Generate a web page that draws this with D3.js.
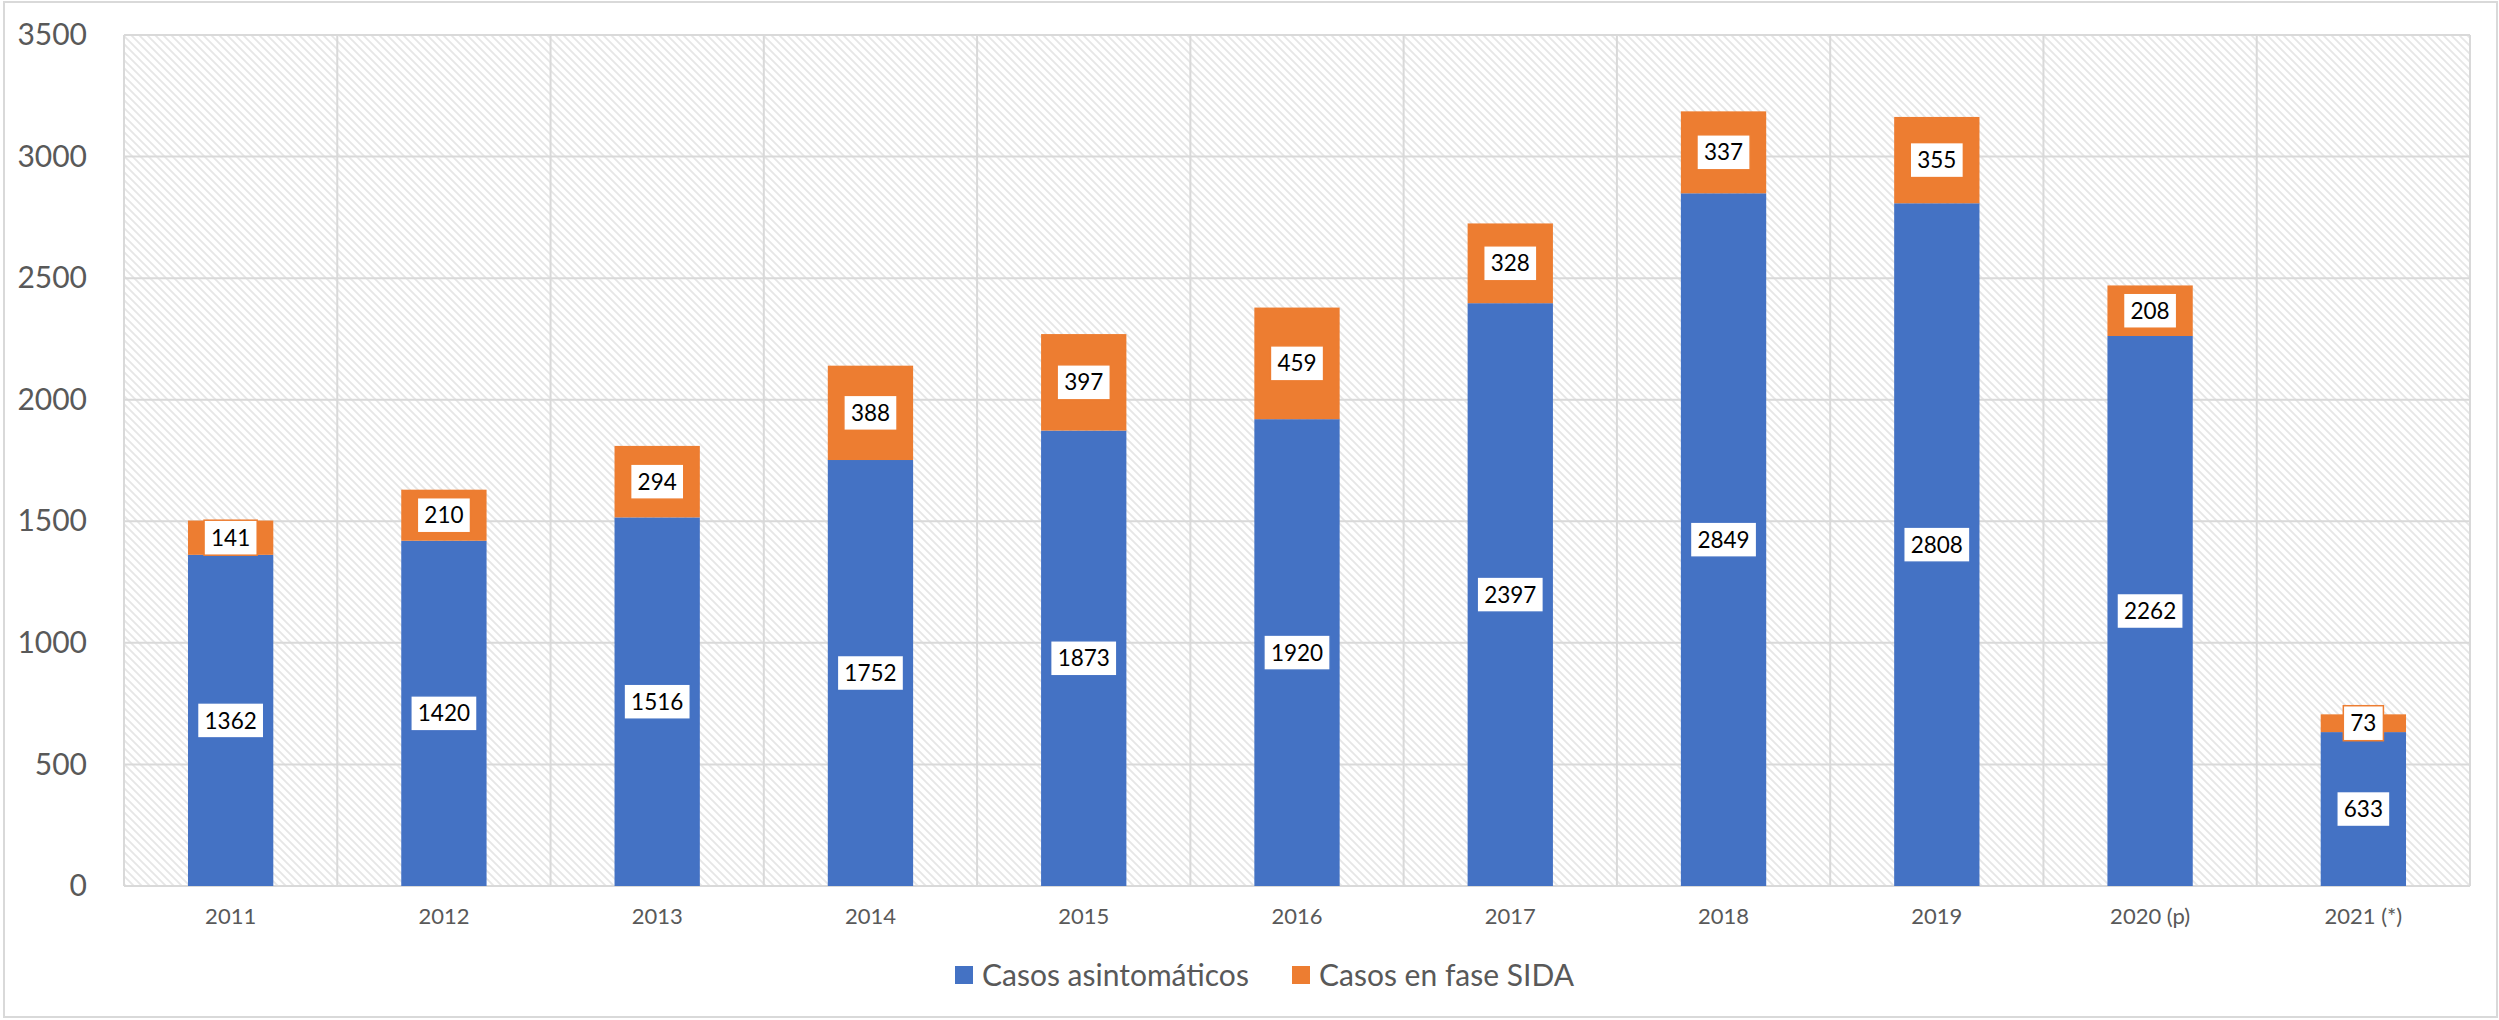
<!DOCTYPE html>
<html>
<head>
<meta charset="utf-8">
<script src="https://cdn.jsdelivr.net/npm/d3@7"></script>
<style>
  body { margin: 0; background: #fff; }
  svg { display: block; font-family: Lato, "Noto Sans", sans-serif; }
</style>
</head>
<body>
<svg width="2499" height="1020"></svg>
<script>
var years = ["2011", "2012", "2013", "2014", "2015", "2016", "2017", "2018", "2019", "2020 (p)", "2021 (*)"];
var asintomaticos = [1362, 1420, 1516, 1752, 1873, 1920, 2397, 2849, 2808, 2262, 633];
var faseSida = [141, 210, 294, 388, 397, 459, 328, 337, 355, 208, 73];
var seriesNames = ["Casos asintomáticos", "Casos en fase SIDA"];
var yTicks = [0, 500, 1000, 1500, 2000, 2500, 3000, 3500];

var colors = ["#4472C4", "#ED7D31"];
var margin = { left: 124, right: 29, top: 35, bottom: 134 };
var width = 2499, height = 1020;

var svg = d3.select("svg");

// outer frame
svg.append("rect")
  .attr("x", 4).attr("y", 2)
  .attr("width", width - 6).attr("height", height - 5)
  .attr("fill", "#fff").attr("stroke", "#d9d9d9").attr("stroke-width", 2);

// hatch pattern for the plot background
var pat = svg.append("defs").append("pattern")
  .attr("id", "hatch")
  .attr("patternUnits", "userSpaceOnUse")
  .attr("width", 8).attr("height", 8);
pat.append("rect").attr("width", 8).attr("height", 8).attr("fill", "#fff");
pat.append("path")
  .attr("d", "M-2,-2 L10,10 M-2,6 L2,10 M6,-2 L10,2")
  .attr("stroke", "#e6e6e6").attr("stroke-width", 1.8);

var x = d3.scaleBand()
  .domain(years)
  .range([margin.left, width - margin.right])
  .paddingInner(0.6)
  .paddingOuter(0.3);

var y = d3.scaleLinear()
  .domain([0, 3500])
  .range([height - margin.bottom, margin.top]);

var plotW = width - margin.right - margin.left;
svg.append("rect")
  .attr("x", margin.left).attr("y", y(3500))
  .attr("width", plotW).attr("height", y(0) - y(3500))
  .attr("fill", "url(#hatch)");

// gridlines
svg.append("g").selectAll("line")
  .data(yTicks).enter().append("line")
  .attr("x1", margin.left).attr("x2", width - margin.right)
  .attr("y1", function (d) { return y(d); })
  .attr("y2", function (d) { return y(d); })
  .attr("stroke", "#d9d9d9").attr("stroke-width", 2);

var step = x.step();
svg.append("g").selectAll("line")
  .data(d3.range(years.length + 1)).enter().append("line")
  .attr("x1", function (i) { return margin.left + i * step; })
  .attr("x2", function (i) { return margin.left + i * step; })
  .attr("y1", y(3500)).attr("y2", y(0))
  .attr("stroke", "#d9d9d9").attr("stroke-width", 2);

// y axis labels
var yAxis = svg.append("g")
  .attr("transform", "translate(87,0)")
  .call(d3.axisLeft(y).tickValues(yTicks).tickFormat(d3.format("d")).tickSize(0).tickPadding(0));
yAxis.select(".domain").remove();
yAxis.selectAll("text")
  .attr("font-size", 30).attr("fill", "#595959")
  .attr("font-family", "Lato, 'Noto Sans', sans-serif");

// x axis labels
var xAxis = svg.append("g")
  .attr("transform", "translate(0," + y(0) + ")")
  .call(d3.axisBottom(x).tickSize(0).tickPadding(22));
xAxis.select(".domain").remove();
xAxis.selectAll("text")
  .attr("font-size", 22).attr("fill", "#595959")
  .attr("font-family", "Lato, 'Noto Sans', sans-serif");

// stacked data
var rows = years.map(function (yr, i) {
  return { year: yr, a: asintomaticos[i], s: faseSida[i] };
});
var stack = d3.stack().keys(["a", "s"])(rows);

var layers = svg.append("g").selectAll("g")
  .data(stack).enter().append("g")
  .attr("fill", function (d, i) { return colors[i]; });

layers.selectAll("rect")
  .data(function (d) { return d; }).enter().append("rect")
  .attr("x", function (d) { return x(d.data.year); })
  .attr("width", x.bandwidth())
  .attr("y", function (d) { return y(d[1]); })
  .attr("height", function (d) { return y(d[0]) - y(d[1]); });

// data labels
stack.forEach(function (layer, li) {
  var g = svg.append("g");
  layer.forEach(function (d) {
    var v = d[1] - d[0];
    var cx = x(d.data.year) + x.bandwidth() / 2;
    var cy = y((d[0] + d[1]) / 2);
    var lbl = g.append("g");
    var box = lbl.append("rect")
      .attr("fill", "#fff").attr("stroke", colors[li]).attr("stroke-width", 1.5);
    var t = lbl.append("text")
      .attr("x", cx).attr("y", cy)
      .attr("text-anchor", "middle").attr("dy", "0.36em")
      .attr("font-size", 22.5).attr("fill", "#000")
      .text(v);
    var w = t.node().getComputedTextLength() + 14;
    box.attr("x", cx - w / 2).attr("y", cy - 17.5)
      .attr("width", w).attr("height", 35);
  });
});

// legend
var legendX = [955, 1292];
var legend = svg.append("g").selectAll("g")
  .data(seriesNames).enter().append("g")
  .attr("transform", function (d, i) { return "translate(" + legendX[i] + ",966)"; });
legend.append("rect")
  .attr("width", 18).attr("height", 18)
  .attr("fill", function (d, i) { return colors[i]; });
legend.append("text")
  .attr("x", 27).attr("y", 9).attr("dy", "0.36em")
  .attr("font-size", 30).attr("fill", "#595959")
  .text(function (d) { return d; });
</script>
</body>
</html>
